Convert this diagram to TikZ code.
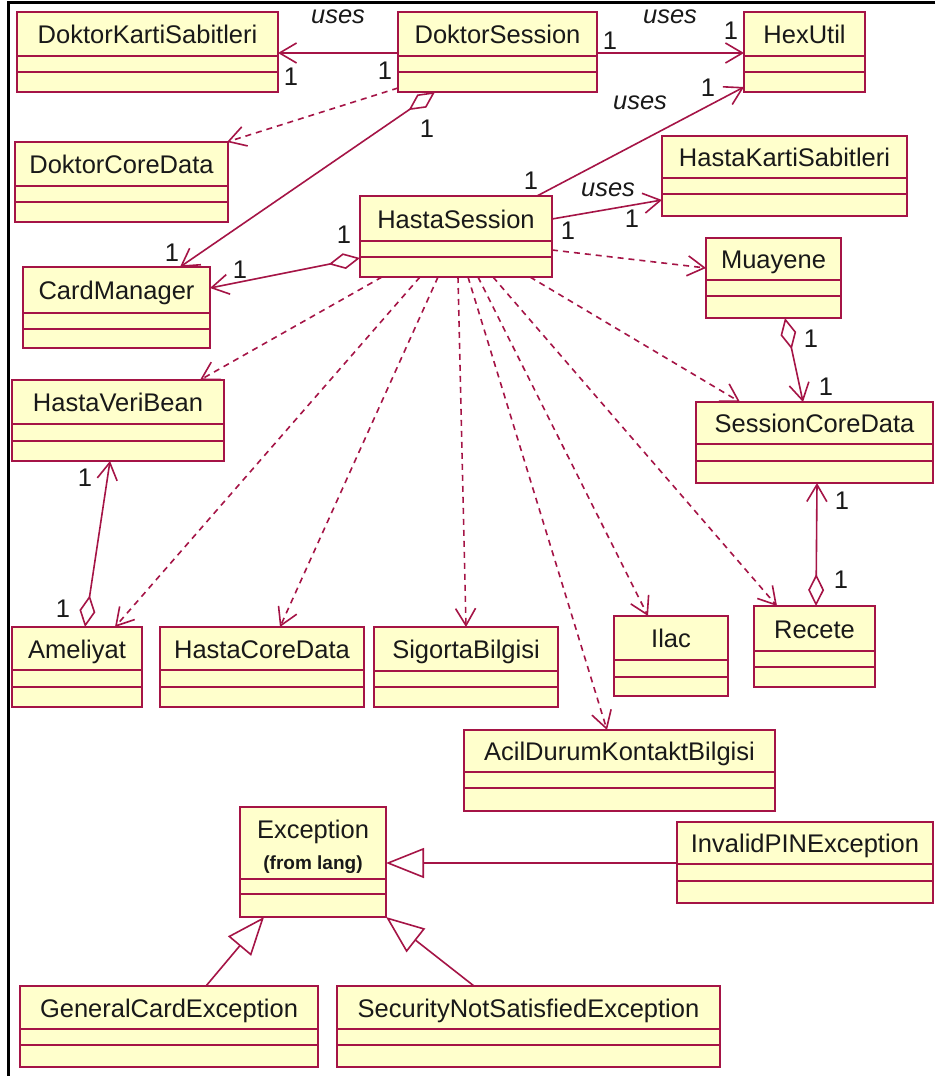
\documentclass[tikz,border=0pt]{standalone}
\usepackage{fontspec}
\setmainfont{Liberation Sans}
\usetikzlibrary{arrows.meta,fit}

\definecolor{umlline}{RGB}{165,20,70}
\definecolor{umlfill}{RGB}{255,255,204}
\definecolor{umltext}{RGB}{25,25,25}

\tikzset{
  classbox/.style={draw=umlline, fill=umlfill, line width=1.8pt, inner sep=0pt, outer sep=0pt},
  classline/.style={draw=umlline, line width=1.8pt},
  classname/.style={anchor=base, inner sep=0pt, text=umltext, font=\fontsize{25.5}{30}\selectfont},
  mult/.style={inner sep=0pt, text=umltext, font=\fontsize{25.5}{30}\selectfont},
  stereo/.style={inner sep=0pt, text=umltext, font=\itshape\fontsize{25.5}{30}\selectfont},
  conn/.style={draw=umlline, line width=1.6pt},
  barb/.tip={Straight Barb[length=17pt,width=20pt]},
  dep/.style={conn, dash pattern=on 6pt off 5pt, -barb},
  nav/.style={conn, -barb},
  aggr/.style={conn, {Diamond[open,length=32pt,width=16pt]}-barb},
  gen/.style={conn, -{Triangle[open,length=38pt,width=30pt]}},
}

% class box: name, x1, y1, x2, y2, header height, middle compartment height, class name
\newcommand\umlclass[8]{%
  \node[classbox, fit={(#2,#3) (#4,#5)}] (#1) {};
  \draw[classline] (#2,{#3+#6}) -- (#4,{#3+#6});
  \draw[classline] (#2,{#3+#6+#7}) -- (#4,{#3+#6+#7});
  \node[classname] (#1-t) at ({(#2+#4)/2},{#3+#6/2+9.5}) {#8};
}

\begin{document}
\begin{tikzpicture}[x=1pt, y=-1pt]
\useasboundingbox (0,0) rectangle (935,1076);
\fill[white] (0,0) rectangle (935,1076);

% frame
\draw[line width=3pt, black] (935,2.5) -- (8,2.5) -- (8,1076);

% classes
\umlclass{DKS}{17}{12}{278}{92}{44}{16}{DoktorKartiSabitleri}
\umlclass{DS}{398}{12}{597}{92}{44}{16}{DoktorSession}
\umlclass{HU}{744}{12}{865}{92}{44}{16}{HexUtil}
\umlclass{DCD}{15}{142}{228}{222}{44}{16}{DoktorCoreData}
\umlclass{HKS}{662}{136}{907}{216}{42}{16}{HastaKartiSabitleri}
\umlclass{HS}{360}{196}{552}{277}{45}{16}{HastaSession}
\umlclass{MU}{706}{238}{841}{318}{42}{16}{Muayene}
\umlclass{CM}{23}{267}{210}{348}{46}{16}{CardManager}
\umlclass{HVB}{12}{380}{224}{461}{44}{17}{HastaVeriBean}
\umlclass{SCD}{696}{402}{933}{483}{42}{17}{SessionCoreData}
\umlclass{AM}{12}{627}{142}{707}{43}{17}{Ameliyat}
\umlclass{HCD}{160}{627}{364}{707}{43}{17}{HastaCoreData}
\umlclass{SB}{374}{627}{558}{707}{44}{16}{SigortaBilgisi}
\umlclass{IL}{614}{616}{728}{696}{44}{17}{Ilac}
\umlclass{RE}{754}{606}{875}{687}{45}{16}{Recete}
\umlclass{AC}{464}{730}{775}{811}{42}{16}{AcilDurumKontaktBilgisi}
\umlclass{IP}{677}{822}{933}{903}{42}{17}{InvalidPINException}
\umlclass{GC}{20}{986}{318}{1067}{43}{16}{GeneralCardException}
\umlclass{SN}{337}{986}{720}{1067}{43}{16}{SecurityNotSatisfiedException}

% Exception carries a package note under its name
\node[classbox, fit={(240,807) (386,917)}] (EX) {};
\draw[classline] (240,879) -- (386,879);
\draw[classline] (240,894) -- (386,894);
\node[classname] (EX-t) at (313,838) {Exception};
\node[classname, font=\bfseries\fontsize{19}{22}\selectfont] (EX-p) at (313,869) {(from lang)};

% associations
\draw[nav] ([yshift=-41pt]DS.north west) -- ([yshift=-41pt]DKS.north east);
\draw[nav] ([yshift=-41pt]DS.north east) -- ([yshift=-41pt]HU.north west);
\draw[dep] ([yshift=4pt]DS.south west) -- ([xshift=-1pt]DCD.north east);
\draw[aggr] ([xshift=37pt]DS.south west) -- ([xshift=157pt]CM.north west);
\draw[aggr] ([yshift=19pt]HS.south west) -- ([yshift=-21pt]CM.north east);
\draw[nav] ([xshift=177pt]HS.north west) -- ([yshift=5pt]HU.south west);
\draw[nav] ([yshift=-23pt]HS.north east) -- ([yshift=16pt]HKS.south west);
\draw[dep] ([yshift=27pt]HS.south east) -- ([yshift=-30pt]MU.north west);
\draw[aggr] ([xshift=79pt]MU.south west) -- ([xshift=107pt]SCD.north west);
\draw[aggr] ([xshift=62pt]RE.north west) -- ([xshift=121pt]SCD.south west);
\draw[aggr] ([xshift=73pt]AM.north west) -- ([xshift=98pt]HVB.south west);

% dependencies leaving HastaSession
\draw[dep] ([xshift=22pt]HS.south west) -- ([xshift=188pt]HVB.north west);
\draw[dep] ([xshift=60pt]HS.south west) -- ([xshift=103pt]AM.north west);
\draw[dep] ([xshift=78pt]HS.south west) -- ([xshift=120pt]HCD.north west);
\draw[dep] ([xshift=98pt]HS.south west) -- ([xshift=92pt]SB.north west);
\draw[dep] ([xshift=108pt]HS.south west) -- ([xshift=143pt]AC.north west);
\draw[dep] ([xshift=118pt]HS.south west) -- ([xshift=34pt]IL.north west);
\draw[dep] ([xshift=133pt]HS.south west) -- ([xshift=23pt]RE.north west);
\draw[dep] ([xshift=170pt]HS.south west) -- ([xshift=44pt]SCD.north west);

% generalizations
\draw[gen] ([yshift=-41pt]IP.north west) -- ([yshift=-56pt]EX.north east);
\draw[gen] ([xshift=186pt]GC.north west) -- ([xshift=24pt]EX.south west);
\draw[gen] ([xshift=137pt]SN.north west) -- (EX.south east);

% stereotype labels
\node[stereo] (u1) at (338,17) {uses};
\node[stereo] (u2) at (670,17) {uses};
\node[stereo] (u3) at (640,103) {uses};
\node[stereo] (u4) at (608,190) {uses};

% multiplicities
\node[mult] (m1) at (291,77) {1};
\node[mult] (m2) at (385,71) {1};
\node[mult] (m3) at (610,41) {1};
\node[mult] (m4) at (731,31) {1};
\node[mult] (m5) at (427,129) {1};
\node[mult] (m6) at (172,253) {1};
\node[mult] (m7) at (344,235) {1};
\node[mult] (m8) at (240,270) {1};
\node[mult] (m9) at (708,88) {1};
\node[mult] (m10) at (531,181) {1};
\node[mult] (m11) at (632,219) {1};
\node[mult] (m12) at (568,231) {1};
\node[mult] (m13) at (811,339) {1};
\node[mult] (m14) at (826,387) {1};
\node[mult] (m15) at (842,501) {1};
\node[mult] (m16) at (841,580) {1};
\node[mult] (m17) at (85,478) {1};
\node[mult] (m18) at (63,609) {1};
\end{tikzpicture}
\end{document}
